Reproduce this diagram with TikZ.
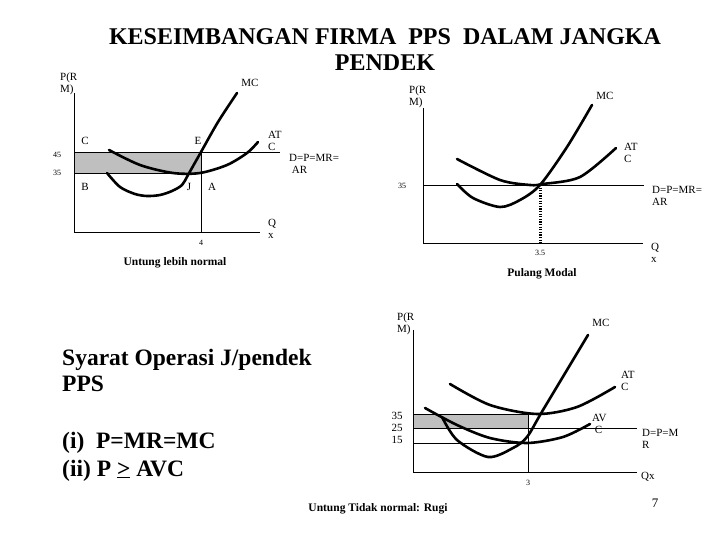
\documentclass[tikz,border=0pt]{standalone}
\usepackage{fontspec}
\setmainfont{Liberation Serif}[BoldFont={Liberation Serif Bold}]
\begin{document}
\begin{tikzpicture}[x=1pt,y=-1pt,
  axis/.style={line width=0.9pt},
  curve/.style={line width=2.6pt,line cap=round},
  lab/.style={font=\fontsize{11}{12}\selectfont,inner sep=0pt,align=left},
  tiny/.style={font=\fontsize{8}{9}\selectfont,inner sep=0pt},
  captxt/.style={font=\bfseries\fontsize{11.5}{12}\selectfont,inner sep=0pt},
  big/.style={font=\bfseries\fontsize{23.5}{26}\selectfont,inner sep=0pt,anchor=base west}]
\useasboundingbox (0,0) rectangle (720,540);
% title
\node[font=\bfseries\fontsize{24}{26}\selectfont,inner sep=0pt,align=center] (title) at (385,50) {KESEIMBANGAN FIRMA\ \ PPS\ \ DALAM JANGKA\\PENDEK};

% ---------- panel 1 ----------
\fill[gray!50] (74,152) rectangle (201,173);
\draw[axis] (74,93) -- (74,232) -- (260,232);
\draw[axis] (74,152) -- (280,152);
\draw[axis] (74,173) -- (201,173);
\draw[axis] (201,152) -- (201,232);
\draw[curve] plot[smooth] coordinates {(107,173) (120,187) (135,194) (147,196) (160,195) (172,191) (182,185) (188,175) (201,152) (218,122) (237,93)};
\draw[curve] plot[smooth] coordinates {(109,150) (140,165) (173,173) (200,173) (227,165) (247,153) (258,142)};
\node[lab,anchor=west] (p1y) at (60,84) {P(R\\M)};
\node[lab] (p1mc) at (250,83) {MC};
\node[lab,anchor=west] (p1atc) at (268,141) {AT\\C};
\node[lab,anchor=west] (p1d) at (289,164) {D=P=MR=\\\ AR};
\node[lab,anchor=west] (p1q) at (268,229) {Q\\x};
\node[tiny] (p145) at (57,155) {45};
\node[tiny] (p135) at (57,173) {35};
\node[tiny] (p14) at (201,243) {4};
\node[lab] (pC) at (85,141) {C};
\node[lab] (pB) at (85,187) {B};
\node[lab] (pE) at (198,141) {E};
\node[lab] (pJ) at (189,187) {J};
\node[lab] (pA) at (212,187) {A};
\node[captxt] (p1cap) at (175,263) {Untung lebih normal};

% ---------- panel 2 ----------
\draw[axis] (423,108) -- (423,243) -- (643,243);
\draw[axis] (423,185) -- (644,185);
\draw[line width=3pt,dash pattern=on 1.3pt off 1.3pt] (540,185) -- (540,243);
\draw[curve] plot[smooth] coordinates {(457,184) (473,198) (500,207) (520,200) (540,185) (567,147) (592,105)};
\draw[curve] plot[smooth] coordinates {(457,159) (500,180) (530,185) (543,184) (580,177) (616,148)};
\node[lab,anchor=west] (p2y) at (409,97) {P(R\\M)};
\node[lab] (p2mc) at (605,96) {MC};
\node[lab,anchor=west] (p2atc) at (624,153) {AT\\C};
\node[lab,anchor=west] (p2d) at (652,196) {D=P=MR=\\AR};
\node[lab,anchor=west] (p2q) at (651,253) {Q\\x};
\node[tiny] (p235) at (402,186) {35};
\node[tiny] (p235b) at (540,253) {3.5};
\node[captxt] (p2cap) at (542,274) {Pulang Modal};

% ---------- panel 3 ----------
\fill[gray!50] (413,414) rectangle (528,428);
\draw[axis] (413,330) -- (413,472) -- (637,472);
\draw[axis] (413,414) -- (528,414);
\draw[axis] (413,428) -- (637,428);
\draw[axis] (413,443) -- (523,443);
\draw[axis] (528,414) -- (528,472);
\draw[curve] plot[smooth] coordinates {(442,417) (457,440) (488,457) (513,448) (527,437) (543,410) (588,335)};
\draw[curve] plot[smooth] coordinates {(450,384) (490,405) (537,414) (577,407) (615,387)};
\draw[curve] plot[smooth] coordinates {(425,408) (457,425) (490,438) (527,443) (563,437) (590,424)};
\node[lab,anchor=west] (p3y) at (397,324) {P(R\\M)};
\node[lab] (p3mc) at (601,323) {MC};
\node[lab,anchor=west] (p3atc) at (621,381) {AT\\C};
\node[lab,anchor=west] (p3avc) at (592,424) {AV\\\ C};
\node[lab,anchor=west] (p3d) at (642,439) {D=P=M\\R};
\node[lab,anchor=west] (p3q) at (641,477) {Qx};
\node[lab,align=center] (p3n) at (397,428) {35\\25\\15};
\node[tiny] (p33) at (528,483) {3};
\node[captxt] (p3cap) at (378,509) {Untung Tidak normal: Rugi};
\node[font=\fontsize{13}{14}\selectfont,inner sep=0pt] (pg) at (655,503) {7};

% ---------- text block ----------
\node[big] (syarat) at (62,365) {Syarat Operasi J/pendek};
\node[big] (pps) at (62,391) {PPS};
\node[big] (cond1) at (62,448) {(i)\ \ P=MR=MC};
\node[big] (cond2) at (62,476) {(ii) P \underline{>} AVC};
\end{tikzpicture}
\end{document}
